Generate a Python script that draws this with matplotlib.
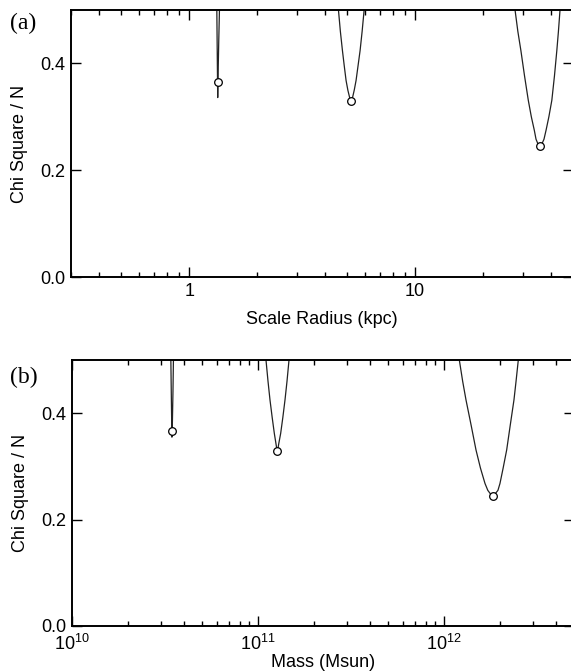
import matplotlib
matplotlib.use("Agg")
import matplotlib.pyplot as plt

plt.rcParams['font.family'] = ['Liberation Sans', 'DejaVu Sans']
plt.rcParams['mathtext.fontset'] = 'custom'
plt.rcParams['mathtext.rm'] = 'Liberation Sans'
plt.rcParams['mathtext.it'] = 'Liberation Sans:italic'

# (a) chi^2/N vs scale radius (kpc), three fits
a1_x = [1.326, 1.333, 1.338, 1.342, 1.352, 1.362]
a1_y = [0.50, 0.40, 0.336, 0.37, 0.44, 0.50]
a1_min = (1.348, 0.366)

a2_x = [4.58, 4.67, 4.77, 4.86, 4.95, 5.04, 5.12, 5.17, 5.21, 5.25, 5.30,
        5.38, 5.48, 5.59, 5.71, 5.83, 5.95]
a2_y = [0.50, 0.46, 0.424, 0.395, 0.368, 0.350, 0.338, 0.331, 0.329, 0.331, 0.338,
        0.350, 0.368, 0.395, 0.424, 0.46, 0.50]
a2_min = (5.21, 0.329)

a3_x = [27.7, 28.5, 29.4, 30.5, 31.7, 32.7, 33.7, 34.3, 35.0, 35.7, 36.4, 37.2,
        38.0, 39.1, 40.3, 41.4, 42.4, 43.1, 43.8]
a3_y = [0.50, 0.46, 0.424, 0.377, 0.331, 0.300, 0.275, 0.258, 0.249, 0.245, 0.249, 0.258,
        0.275, 0.300, 0.331, 0.377, 0.424, 0.46, 0.50]
a3_min = (35.7, 0.245)

# (b) chi^2/N vs mass (Msun)
b1_x = [3.40e10, 3.43e10, 3.445e10, 3.46e10, 3.49e10, 3.51e10]
b1_y = [0.50, 0.40, 0.355, 0.37, 0.44, 0.50]
b1_min = (3.45e10, 0.3665)

b2_x = [1.104e11, 1.132e11, 1.160e11, 1.192e11, 1.224e11, 1.250e11, 1.262e11, 1.270e11,
        1.280e11, 1.292e11, 1.324e11, 1.360e11, 1.397e11, 1.432e11, 1.468e11]
b2_y = [0.50, 0.46, 0.425, 0.392, 0.362, 0.342, 0.333, 0.330,
        0.333, 0.342, 0.362, 0.392, 0.425, 0.46, 0.50]
b2_min = (1.270e11, 0.3295)

b3_x = [1.209e12, 1.26e12, 1.313e12, 1.40e12, 1.486e12, 1.57e12, 1.661e12, 1.72e12,
        1.78e12, 1.827e12, 1.88e12, 1.95e12, 2.0e12, 2.08e12, 2.173e12, 2.27e12,
        2.378e12, 2.44e12, 2.509e12]
b3_y = [0.50, 0.46, 0.425, 0.377, 0.331, 0.297, 0.268, 0.255,
        0.248, 0.245, 0.248, 0.255, 0.268, 0.297, 0.331, 0.377,
        0.425, 0.46, 0.50]
b3_min = (1.827e12, 0.245)

y_ticks = [0.0, 0.2, 0.4]

W, H = 571, 672
fig = plt.figure(figsize=(W / 100, H / 100), dpi=100)

def style_axes(ax):
    ax.set_xscale('log')
    ax.set_ylim(0, 0.5)
    ax.set_yticks(y_ticks)
    ax.set_yticklabels(['%.1f' % v for v in y_ticks])
    ax.tick_params(which='both', direction='in', top=True, right=True, labelsize=13, width=1, pad=4)
    ax.tick_params(which='major', length=7)
    ax.tick_params(which='minor', length=3.5)
    for s in ax.spines.values():
        s.set_linewidth(1.4)
    ax.set_ylabel('Chi Square / N', fontsize=13, labelpad=9)

def draw_curve(ax, xs, ys, mn):
    ax.plot(xs, ys, color='#222222', lw=0.9, clip_on=True)
    ax.plot([mn[0]], [mn[1]], 'o', ms=5.5, mfc='white', mec='black', mew=0.9)

ax1 = fig.add_axes([71 / W, (H - 277) / H, (573 - 71) / W, 267 / H])
style_axes(ax1)
ax1.set_xlim(0.3, 50)
ax1.set_xticks([1, 10])
ax1.set_xticklabels(['1', '10'])
draw_curve(ax1, a1_x, a1_y, a1_min)
draw_curve(ax1, a2_x, a2_y, a2_min)
draw_curve(ax1, a3_x, a3_y, a3_min)
ax1.set_xlabel('Scale Radius (kpc)', fontsize=13, labelpad=8)
fig.text(10 / W, 1 - 23 / H, '(a)', family='Liberation Serif', fontsize=17, va='center', ha='left')

ax2 = fig.add_axes([72 / W, (H - 626) / H, (574 - 72) / W, 266 / H])
style_axes(ax2)
ax2.set_xlim(1e10, 5e12)
ax2.tick_params(axis='x', which='major', pad=5.5)
draw_curve(ax2, b1_x, b1_y, b1_min)
draw_curve(ax2, b2_x, b2_y, b2_min)
draw_curve(ax2, b3_x, b3_y, b3_min)
ax2.set_xlabel('Mass (Msun)', fontsize=13, labelpad=0)
fig.text(10 / W, 1 - 377 / H, '(b)', family='Liberation Serif', fontsize=17, va='center', ha='left')

fig.savefig('out.png', dpi=100)
